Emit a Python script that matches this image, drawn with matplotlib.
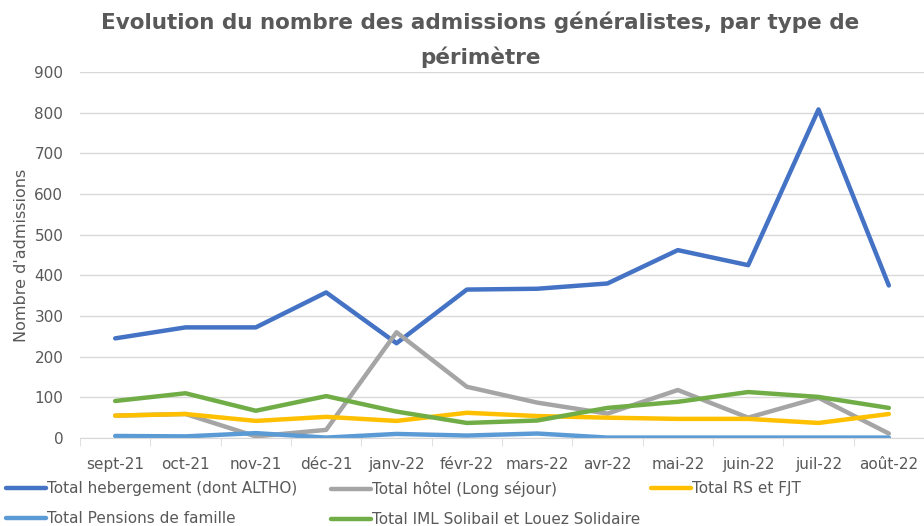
import numpy as np
import matplotlib.pyplot as plt
from matplotlib.ticker import MultipleLocator

plt.rcParams['font.family'] = ['DejaVu Sans']

mois = ["sept-21", "oct-21", "nov-21", "déc-21", "janv-22", "févr-22",
        "mars-22", "avr-22", "mai-22", "juin-22", "juil-22", "août-22"]

hebergement = [245, 272, 272, 358, 233, 365, 367, 380, 462, 425, 808, 375]
hotel = [55, 59, 4, 20, 260, 126, 87, 60, 118, 50, 99, 11]
rs_fjt = [55, 59, 42, 52, 42, 62, 54, 50, 47, 47, 37, 59]
pensions = [5, 4, 12, 1, 10, 6, 11, 1, 1, 1, 1, 1]
iml = [91, 110, 67, 103, 65, 37, 43, 74, 89, 113, 101, 74]

series = [
    ("Total hebergement (dont ALTHO)", hebergement, "#4472C4"),
    ("Total hôtel (Long séjour)", hotel, "#A5A5A5"),
    ("Total RS et FJT", rs_fjt, "#FFC000"),
    ("Total Pensions de famille", pensions, "#5B9BD5"),
    ("Total IML Solibail et Louez Solidaire", iml, "#70AD47"),
]

txt = "#595959"

fig = plt.figure(figsize=(9.24, 5.26), dpi=100)
ax = fig.add_axes([80/924, 1-438/526, 844/924, 366/526])

x = np.arange(len(mois))
handles = []
for nom, vals, col in series:
    h, = ax.plot(x, vals, color=col, lw=3.2, label=nom, solid_capstyle='round')
    handles.append(h)

ax.set_xlim(-0.5, len(mois) - 0.5)
ax.set_ylim(0, 900)
ax.yaxis.set_major_locator(MultipleLocator(100))
ax.grid(axis='y', color="#D9D9D9", lw=1)
ax.set_axisbelow(True)
for s in ['top', 'right', 'left']:
    ax.spines[s].set_visible(False)
ax.spines['bottom'].set_color("#D9D9D9")
ax.tick_params(axis='y', length=0, colors=txt, labelsize=11, pad=12)
ax.set_xticks(x)
ax.set_xticklabels(mois)
ax.tick_params(axis='x', length=0, colors=txt, labelsize=11, pad=14)
ax.set_xticks(np.arange(-0.5, len(mois)), minor=True)
ax.tick_params(axis='x', which='minor', length=6, color="#D9D9D9")
ax.set_ylabel("Nombre d'admissions", color=txt, fontsize=11.5, labelpad=4)

fig.text(0.52, 0.978, "Evolution du nombre des admissions généralistes, par type de\npérimètre",
         ha='center', va='top', fontsize=15.5, fontweight='bold', color=txt,
         linespacing=1.75)

# legende sur deux lignes, trois colonnes
cols = [[0, 3], [1, 4], [2]]
xs = [0 / 924, 325 / 924, 645 / 924]
for c, xpos in zip(cols, xs):
    lg = fig.legend([handles[i] for i in c], [series[i][0] for i in c],
                    loc='upper left', bbox_to_anchor=(xpos, 1 - 475 / 526),
                    frameon=False, fontsize=11, handlelength=2.6,
                    handletextpad=0.05, labelspacing=1.0, borderaxespad=0)
    for t in lg.get_texts():
        t.set_color(txt)

fig.savefig("out.png", dpi=100)
